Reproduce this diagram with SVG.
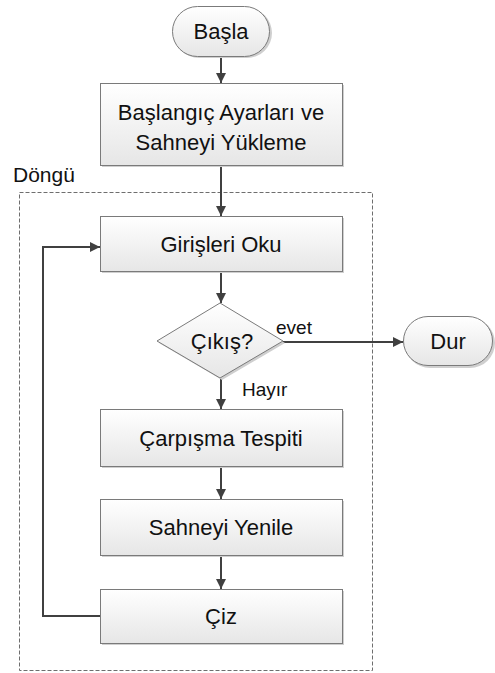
<svg xmlns="http://www.w3.org/2000/svg" width="495" height="673" viewBox="0 0 495 673">
<defs>
<linearGradient id="g" x1="0" y1="0" x2="0" y2="1">
<stop offset="0" stop-color="#ffffff"/>
<stop offset="1" stop-color="#e6e6e6"/>
</linearGradient>
<marker id="arr" viewBox="0 0 10 10" refX="10" refY="5" markerWidth="10" markerHeight="10" markerUnits="userSpaceOnUse" orient="auto">
<path d="M0,0 L10,5 L0,10 Z" fill="#404040"/>
</marker>
</defs>
<style>
.n{fill:url(#g);stroke:#7a7a7a;stroke-width:1}
.sh{fill:#cfcfcf;stroke:none}
.t{font-family:"Liberation Sans",Arial,sans-serif;font-size:22px;fill:#111;text-anchor:middle}
.s{font-family:"Liberation Sans",Arial,sans-serif;font-size:19px;fill:#111}
.c{fill:none;stroke:#404040;stroke-width:2}
.ca{fill:none;stroke:#404040;stroke-width:2;marker-end:url(#arr)}
</style>
<rect x="0" y="0" width="495" height="673" fill="#ffffff"/>
<g id="loop-container">
<rect x="19.5" y="192.5" width="353" height="478" fill="none" stroke="#6e6e6e" stroke-width="1" stroke-dasharray="4 2"/>
<text class="s" x="13" y="182" style="font-size:21px">Döngü</text>
</g>
<g id="connectors">
<line class="ca" x1="221" y1="57" x2="221" y2="83"/>
<line class="ca" x1="221" y1="165" x2="221" y2="216"/>
<line class="ca" x1="221" y1="271" x2="221" y2="303"/>
<line class="ca" x1="221" y1="378" x2="221" y2="409"/>
<line class="ca" x1="221" y1="466" x2="221" y2="499"/>
<line class="ca" x1="221" y1="555" x2="221" y2="589"/>
<polyline class="ca" points="100,616 43,616 43,247 100,247"/>
<line class="ca" x1="283" y1="342" x2="403" y2="342"/>
<text class="s" x="276" y="334">evet</text>
<text class="s" x="242" y="396">Hayır</text>
</g>
<g id="start">
<rect class="sh" x="174" y="8" width="98" height="50" rx="25"/>
<rect class="n" x="172.5" y="6.5" width="97" height="50" rx="25"/>
<text class="t" x="221" y="39">Başla</text>
</g>
<g id="setup">
<rect class="sh" x="102" y="85" width="242" height="82"/>
<rect class="n" x="100.5" y="83.5" width="242" height="82"/>
<text class="t" x="221" y="120">Başlangıç Ayarları ve</text>
<text class="t" x="221" y="150">Sahneyi Yükleme</text>
</g>
<g id="read-input">
<rect class="sh" x="102" y="218" width="242" height="55"/>
<rect class="n" x="100.5" y="216.5" width="242" height="55"/>
<text class="t" x="221" y="252">Girişleri Oku</text>
</g>
<g id="exit-decision">
<polygon class="sh" points="159,343 222,305 285,343 222,380"/>
<polygon class="n" points="157,341 220,303 283,341 220,378"/>
<text class="t" x="222" y="349">Çıkış?</text>
</g>
<g id="stop">
<rect class="sh" x="405" y="318" width="90" height="50" rx="25"/>
<rect class="n" x="403.5" y="316.5" width="89" height="49" rx="24.5"/>
<text class="t" x="448" y="349">Dur</text>
</g>
<g id="collision">
<rect class="sh" x="102" y="411" width="242" height="57"/>
<rect class="n" x="100.5" y="409.5" width="242" height="57"/>
<text class="t" x="221" y="446">Çarpışma Tespiti</text>
</g>
<g id="update-scene">
<rect class="sh" x="102" y="501" width="242" height="56"/>
<rect class="n" x="100.5" y="499.5" width="242" height="56"/>
<text class="t" x="221" y="535">Sahneyi Yenile</text>
</g>
<g id="draw">
<rect class="sh" x="102" y="591" width="242" height="54"/>
<rect class="n" x="100.5" y="589.5" width="242" height="54"/>
<text class="t" x="221" y="624">Çiz</text>
</g>
</svg>
